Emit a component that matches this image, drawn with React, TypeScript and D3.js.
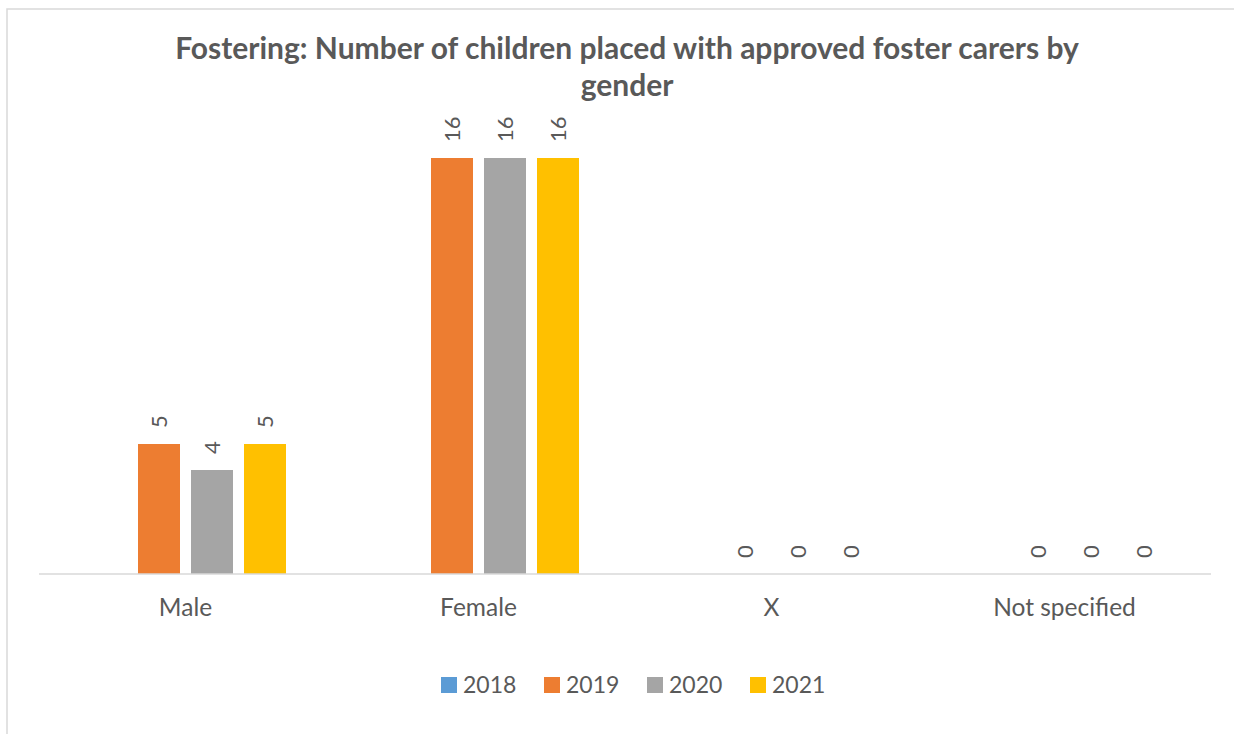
import React from "react";
import * as d3 from "d3";

const categories = ["Male", "Female", "X", "Not specified"];
const seriesNames = ["2018", "2019", "2020", "2021"];
const values2018: (number | null)[] = [null, null, null, null];
const values2019: (number | null)[] = [5, 16, 0, 0];
const values2020: (number | null)[] = [4, 16, 0, 0];
const values2021: (number | null)[] = [5, 16, 0, 0];
const seriesValues = [values2018, values2019, values2020, values2021];
const seriesColors = ["#5B9BD5", "#ED7D31", "#A5A5A5", "#FFC000"];
const titleLines = [
  "Fostering: Number of children placed with approved foster carers by",
  "gender",
];

const W = 1234;
const H = 734;
const FONT = "Lato, 'Open Sans', sans-serif";
const TEXT = "#595959";

export default function App() {
  const x0 = d3.scaleBand<string>().domain(categories).range([39, 1211]).padding(0);
  const groupW = 201;
  const x1 = d3.scaleBand<string>().domain(seriesNames).range([0, groupW]).paddingInner(11 / 53).paddingOuter(0);
  const y = d3.scaleLinear().domain([0, 18]).range([574, 106]);
  const off = (x0.bandwidth() - groupW) / 2;

  const bars: React.ReactNode[] = [];
  const labels: React.ReactNode[] = [];
  seriesNames.forEach((s, si) => {
    seriesValues[si].forEach((v, ci) => {
      if (v === null) return;
      const bx = (x0(categories[ci]) as number) + off + (x1(s) as number);
      const bw = x1.bandwidth();
      const top = y(v);
      if (v > 0) {
        bars.push(
          <rect key={`b${si}-${ci}`} x={bx} y={top} width={bw} height={y(0) - top} fill={seriesColors[si]} />
        );
      }
      const cx = bx + bw / 2;
      labels.push(
        <text
          key={`l${si}-${ci}`}
          transform={`translate(${cx},${top - 16}) rotate(-90)`}
          dy="0.36em"
          textAnchor="start"
          fontSize={22}
          fill={TEXT}
          fontFamily={FONT}
        >
          {v}
        </text>
      );
    });
  });

  return (
    <svg
      width={W}
      height={H}
      style={{ position: "absolute", left: 0, top: 0, background: "#fff" }}
    >
      <rect x={7} y={9} width={1260} height={760} fill="#fff" stroke="#D9D9D9" strokeWidth={1.5} />
      {titleLines.map((t, i) => (
        <text
          key={t}
          x={627}
          y={59 + i * 37}
          textAnchor="middle"
          fontSize={30}
          fontWeight="bold"
          fill={TEXT}
          fontFamily={FONT}
        >
          {t}
        </text>
      ))}
      {bars}
      <line x1={39} x2={1211} y1={y(0)} y2={y(0)} stroke="#D9D9D9" strokeWidth={1.5} />
      {labels}
      {categories.map((c) => (
        <text
          key={c}
          x={(x0(c) as number) + x0.bandwidth() / 2}
          y={616}
          textAnchor="middle"
          fontSize={24.5}
          fill={TEXT}
          fontFamily={FONT}
        >
          {c}
        </text>
      ))}
      {seriesNames.map((s, i) => (
        <g key={s} transform={`translate(${441 + i * 103},677)`}>
          <rect x={0} y={0} width={16} height={16} fill={seriesColors[i]} />
          <text x={22} y={16} fontSize={23} fill={TEXT} fontFamily={FONT}>
            {s}
          </text>
        </g>
      ))}
    </svg>
  );
}
